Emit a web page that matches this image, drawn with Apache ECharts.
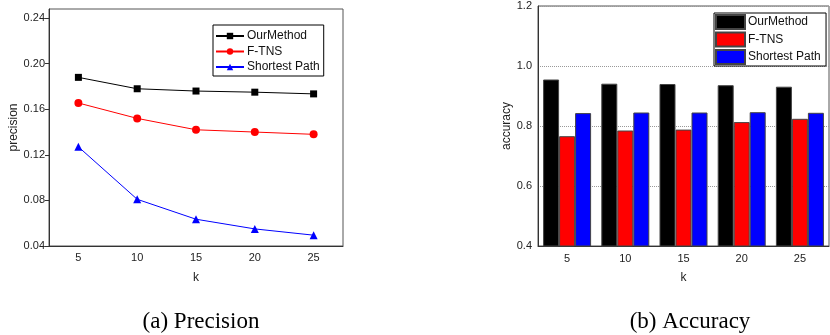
<!DOCTYPE html>
<html>
<head>
<meta charset="utf-8">
<script src="https://cdn.jsdelivr.net/npm/echarts@6/dist/echarts.min.js"></script>
<style>
  html, body { margin: 0; padding: 0; background: #fff; }
  #chart { width: 830px; height: 335px; }
</style>
</head>
<body>
<div id="chart"></div>
<script>
// k values shared by both panels
const kValues = ['5', '10', '15', '20', '25']
const seriesNames = ['OurMethod', 'F-TNS', 'Shortest Path']

// (a) precision
const precOurMethod = [0.188, 0.178, 0.176, 0.175, 0.1735]
const precFTNS = [0.1655, 0.152, 0.142, 0.140, 0.138]
const precShortest = [0.127, 0.081, 0.0635, 0.055, 0.0495]
const precTicks = [0.04, 0.08, 0.12, 0.16, 0.20, 0.24]

// (b) accuracy
const accOurMethod = [0.955, 0.941, 0.940, 0.936, 0.931]
const accFTNS = [0.766, 0.785, 0.788, 0.813, 0.824]
const accShortest = [0.843, 0.845, 0.845, 0.846, 0.844]

const colors = ['#000000', '#ff0000', '#0000ff']
const font = 'Liberation Sans, Arial, sans-serif'
const serif = 'Liberation Serif, Times New Roman, serif'

let myChart = echarts.init(document.getElementById('chart'))

myChart.setOption({
  animation: false,
  textStyle: { fontFamily: font, color: '#222' },
  title: [
    {
      text: '(a) Precision',
      left: 196,
      top: 305,
      textAlign: 'center',
      textStyle: { fontFamily: serif, fontSize: 23, fontWeight: 'normal', color: '#000' }
    },
    {
      text: '(b) Accuracy',
      left: 685,
      top: 305,
      textAlign: 'center',
      textStyle: { fontFamily: serif, fontSize: 23, fontWeight: 'normal', color: '#000' }
    }
  ],
  legend: [
    {
      data: seriesNames,
      selectedMode: false,
      orient: 'vertical',
      left: 213,
      top: 25,
      padding: [4, 4, 2, 2],
      itemGap: 1.5,
      itemWidth: 28,
      itemHeight: 8,
      borderColor: '#000',
      borderWidth: 1,
      textStyle: { fontSize: 12, lineHeight: 14, color: '#111', padding: [0, 0, 0, -2] }
    },
    {
      data: ['OurMethod ', 'F-TNS ', 'Shortest Path '],
      selectedMode: false,
      orient: 'vertical',
      left: 714,
      top: 13,
      padding: [1, 2, 1, 1],
      itemGap: 1.5,
      itemWidth: 29,
      itemHeight: 14,
      borderColor: '#000',
      borderWidth: 1,
      icon: 'rect',
      textStyle: { fontSize: 12, lineHeight: 14, color: '#111', padding: [0, 0, 0, -2] }
    }
  ],
  grid: [
    {
      left: 49, top: 9, width: 294, height: 237,
      show: true, borderColor: '#555', borderWidth: 1, backgroundColor: 'transparent'
    },
    {
      left: 538, top: 6, width: 291, height: 240,
      show: true, borderColor: '#555', borderWidth: 1, backgroundColor: 'transparent'
    }
  ],
  xAxis: [
    {
      gridIndex: 0,
      type: 'category',
      data: kValues,
      boundaryGap: true,
      name: 'k',
      nameLocation: 'middle',
      nameGap: 26,
      nameTextStyle: { fontSize: 12, color: '#222' },
      axisLine: { lineStyle: { color: '#333' } },
      axisTick: { alignWithLabel: true, length: 4, lineStyle: { color: '#333' } },
      axisLabel: { fontSize: 11, color: '#222', margin: 6 }
    },
    {
      gridIndex: 1,
      type: 'category',
      data: kValues,
      boundaryGap: true,
      name: 'k',
      nameLocation: 'middle',
      nameGap: 26,
      nameTextStyle: { fontSize: 12, color: '#222' },
      axisLine: { lineStyle: { color: '#333' } },
      axisTick: { show: false },
      axisLabel: { fontSize: 11, color: '#222', margin: 7 }
    }
  ],
  yAxis: [
    {
      gridIndex: 0,
      type: 'value',
      min: 0.04,
      max: 0.248,
      name: 'precision',
      nameLocation: 'middle',
      nameGap: 29,
      nameTextStyle: { fontSize: 12, color: '#222' },
      axisLine: { show: true, lineStyle: { color: '#333' } },
      axisTick: { show: true, length: 4, customValues: precTicks, lineStyle: { color: '#333' } },
      axisLabel: {
        fontSize: 11, color: '#222', margin: 4,
        customValues: precTicks,
        formatter: v => v.toFixed(2)
      },
      splitLine: { show: false }
    },
    {
      gridIndex: 1,
      type: 'value',
      min: 0.4,
      max: 1.2,
      interval: 0.2,
      name: 'accuracy',
      nameLocation: 'middle',
      nameGap: 25,
      nameTextStyle: { fontSize: 12, color: '#222' },
      axisLine: { show: true, lineStyle: { color: '#333' } },
      axisTick: { show: false },
      axisLabel: { fontSize: 11, color: '#222', margin: 6, formatter: v => v.toFixed(1) },
      splitLine: { show: true, lineStyle: { color: '#999', type: 'dotted' } }
    }
  ],
  series: [
    {
      name: 'OurMethod', type: 'line', xAxisIndex: 0, yAxisIndex: 0,
      data: precOurMethod, symbol: 'rect', symbolSize: 7,
      lineStyle: { color: colors[0], width: 1 }, itemStyle: { color: colors[0] }
    },
    {
      name: 'F-TNS', type: 'line', xAxisIndex: 0, yAxisIndex: 0,
      data: precFTNS, symbol: 'circle', symbolSize: 8,
      lineStyle: { color: colors[1], width: 1 }, itemStyle: { color: colors[1] }
    },
    {
      name: 'Shortest Path', type: 'line', xAxisIndex: 0, yAxisIndex: 0,
      data: precShortest, symbol: 'triangle', symbolSize: 8,
      lineStyle: { color: colors[2], width: 1 }, itemStyle: { color: colors[2] }
    },
    {
      name: 'OurMethod ', type: 'bar', xAxisIndex: 1, yAxisIndex: 1,
      data: accOurMethod, barWidth: 16, barGap: 0,
      itemStyle: { color: colors[0], borderColor: '#444', borderWidth: 1 }
    },
    {
      name: 'F-TNS ', type: 'bar', xAxisIndex: 1, yAxisIndex: 1,
      data: accFTNS, barWidth: 16, barGap: 0,
      itemStyle: { color: colors[1], borderColor: '#444', borderWidth: 1 }
    },
    {
      name: 'Shortest Path ', type: 'bar', xAxisIndex: 1, yAxisIndex: 1,
      data: accShortest, barWidth: 16, barGap: 0,
      itemStyle: { color: colors[2], borderColor: '#444', borderWidth: 1 }
    }
  ]
})
</script>
</body>
</html>
